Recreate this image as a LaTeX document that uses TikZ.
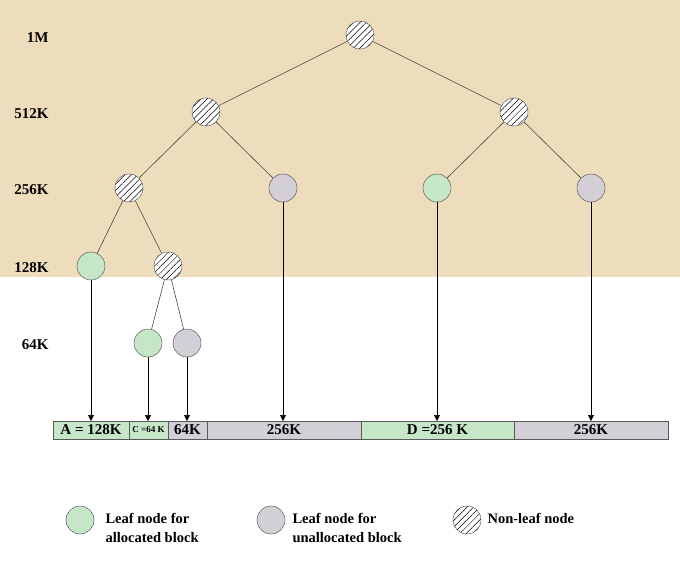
\documentclass[tikz,border=0pt]{standalone}
\usepackage{fontspec}
\setmainfont{Liberation Serif}
\usetikzlibrary{positioning,patterns.meta,arrows.meta}
\definecolor{paper}{RGB}{238,221,188}
\definecolor{alloc}{RGB}{198,230,200}
\definecolor{free}{RGB}{210,208,214}
\definecolor{edgecol}{RGB}{80,70,55}
\begin{document}
\begin{tikzpicture}[x=1pt,y=-1pt,
  every node/.style={font=\bfseries\fontsize{15}{17}\selectfont},
  blk/.style={circle, draw=black!75, minimum size=28pt, inner sep=0pt},
  used/.style={blk, fill=alloc},
  unused/.style={blk, fill=free},
  split/.style={blk, preaction={fill=white},
    pattern={Lines[angle=45,distance=4.5pt,line width=0.5pt]}},
  edge/.style={draw=edgecol, line width=0.6pt},
  down/.style={draw, line width=0.6pt, -{Triangle[length=6pt,width=6pt]}},
  seg/.style={draw=black!65, minimum height=18pt, inner sep=0pt, outer sep=0pt},
  lvl/.style={anchor=east},
  key/.style={anchor=west, align=left, font=\bfseries\fontsize{14.5}{19}\selectfont}]
  \useasboundingbox (0,0) rectangle (680,567);
  \fill[paper] (0,0) rectangle (680,277);
  % level labels
  \node[lvl] (m1) at (52,38) {1M};
  \node[lvl] (k512) at (52,114) {512K};
  \node[lvl] (k256) at (52,190) {256K};
  \node[lvl] (k128) at (52,268) {128K};
  \node[lvl] (k64) at (52,345) {64K};
  % tree
  \node[split] (root) at (360,35) {};
  \node[split] (l) at (206,112) {};
  \node[split] (r) at (514,112) {};
  \node[split] (ll) at (129,188) {};
  \node[unused] (lr) at (283,188) {};
  \node[used] (rl) at (437,188) {};
  \node[unused] (rr) at (591,188) {};
  \node[used] (lll) at (91,266) {};
  \node[split] (llr) at (168,266) {};
  \node[used] (llrl) at (148,343) {};
  \node[unused] (llrr) at (187,343) {};
  \foreach \a/\b in {root/l, root/r, l/ll, l/lr, r/rl, r/rr,
    ll/lll, ll/llr, llr/llrl, llr/llrr}
    \draw[edge] (\a) -- (\b);
  % memory
  \node[seg, fill=alloc, minimum width=76pt, anchor=west] (sa) at (53,430) {A = 128K};
  \node[seg, fill=alloc, minimum width=39pt, right=0pt of sa,
    font=\bfseries\fontsize{9}{10}\selectfont] (sc) {C =64 K};
  \node[seg, fill=free, minimum width=39pt, right=0pt of sc] (s64) {64K};
  \node[seg, fill=free, minimum width=154pt, right=0pt of s64] (sb) {256K};
  \node[seg, fill=alloc, minimum width=153pt, right=0pt of sb] (sd) {D =256 K};
  \node[seg, fill=free, minimum width=154pt, right=0pt of sd] (se) {256K};
  \foreach \a/\b in {lll/sa, llrl/sc, llrr/s64, lr/sb, rl/sd, rr/se}
    \draw[down] (\a) -- (\a |- \b.north);
  % legend
  \node[used] (kg) at (80,520) {};
  \node[key] (kgt) at (102,528) {Leaf node for\\allocated block};
  \node[unused] (kf) at (271,520) {};
  \node[key] (kft) at (289,528) {Leaf node for\\unallocated block};
  \node[split] (ks) at (467,520) {};
  \node[key] (kst) at (484,518) {Non-leaf node};
\end{tikzpicture}
\end{document}
